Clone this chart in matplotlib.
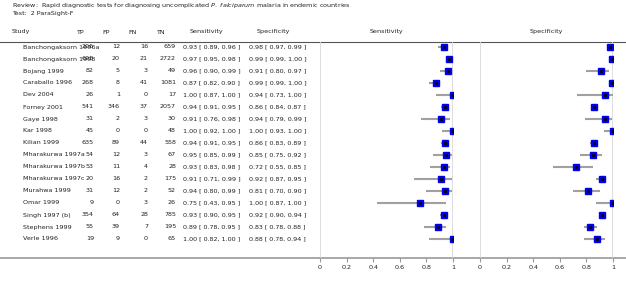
import numpy as np
import matplotlib
matplotlib.use("Agg")
import matplotlib.pyplot as plt

# Study data
studies = ["Banchongaksorn 1996a", "Banchongaksorn 1998", "Bojang 1999", "Caraballo 1996",
           "Dev 2004", "Forney 2001", "Gaye 1998", "Kar 1998", "Kilian 1999",
           "Mharakurwa 1997a", "Mharakurwa 1997b", "Mharakurwa 1997c", "Murahwa 1999",
           "Omar 1999", "Singh 1997 (b)", "Stephens 1999", "Verle 1996"]
tp = [206, 698, 82, 268, 26, 541, 31, 45, 635, 54, 53, 20, 31, 9, 354, 55, 19]
fp = [12, 20, 5, 8, 1, 346, 2, 0, 89, 12, 11, 16, 12, 0, 64, 39, 9]
fn = [16, 21, 3, 41, 0, 37, 3, 0, 44, 3, 4, 2, 2, 3, 28, 7, 0]
tn = [659, 2722, 49, 1081, 17, 2057, 30, 48, 558, 67, 28, 175, 52, 26, 785, 195, 65]

sens = [0.93, 0.97, 0.96, 0.87, 1.00, 0.94, 0.91, 1.00, 0.94, 0.95, 0.93, 0.91, 0.94, 0.75, 0.93, 0.89, 1.00]
sens_lo = [0.89, 0.95, 0.90, 0.82, 0.87, 0.91, 0.76, 0.92, 0.91, 0.85, 0.83, 0.71, 0.80, 0.43, 0.90, 0.78, 0.82]
sens_hi = [0.96, 0.98, 0.99, 0.90, 1.00, 0.95, 0.98, 1.00, 0.95, 0.99, 0.98, 0.99, 0.99, 0.95, 0.95, 0.95, 1.00]
spec = [0.98, 0.99, 0.91, 0.99, 0.94, 0.86, 0.94, 1.00, 0.86, 0.85, 0.72, 0.92, 0.81, 1.00, 0.92, 0.83, 0.88]
spec_lo = [0.97, 0.99, 0.80, 0.99, 0.73, 0.84, 0.79, 0.93, 0.83, 0.75, 0.55, 0.87, 0.70, 0.87, 0.90, 0.78, 0.78]
spec_hi = [0.99, 1.00, 0.97, 1.00, 1.00, 0.87, 0.99, 1.00, 0.89, 0.92, 0.85, 0.95, 0.90, 1.00, 0.94, 0.88, 0.94]

ticks = [0, 0.2, 0.4, 0.6, 0.8, 1]
tick_labels = ["0", "0.2", "0.4", "0.6", "0.8", "1"]

W, H = 626, 284
fs = 4.6
txt = "#222222"

fig = plt.figure(figsize=(W / 100, H / 100), dpi=100)

# overlay axes in pixel coordinates for the table
tab = fig.add_axes([0, 0, 1, 1])
tab.set_xlim(0, W)
tab.set_ylim(H, 0)
tab.axis("off")

tab.text(12, 6, "Review:  Rapid diagnostic tests for diagnosing uncomplicated $\\it{P.\\ falciparum}$ malaria in endemic countries",
         fontsize=fs, color=txt, va="center")
tab.text(12, 14, "Test:  2 ParaSight-F", fontsize=fs, color=txt, va="center")

hy = 32
tab.text(12, hy, "Study", fontsize=fs, color=txt, va="center")
for x, h in [(80, "TP"), (106, "FP"), (133, "FN"), (160, "TN")]:
    tab.text(x, hy, h, fontsize=fs, color=txt, va="center", ha="center")
tab.text(206, hy, "Sensitivity", fontsize=fs, color=txt, va="center", ha="center")
tab.text(273, hy, "Specificity", fontsize=fs, color=txt, va="center", ha="center")
tab.text(386, hy, "Sensitivity", fontsize=fs, color=txt, va="center", ha="center")
tab.text(546, hy, "Specificity", fontsize=fs, color=txt, va="center", ha="center")

tab.plot([0, W], [42, 42], color="#555555", lw=0.8)
tab.plot([0, W], [258, 258], color="#999999", lw=1.2)

y0, dy = 47, 12
for i, s in enumerate(studies):
    y = y0 + dy * i
    tab.text(23, y, s, fontsize=fs, color=txt, va="center")
    tab.text(94, y, str(tp[i]), fontsize=fs, color=txt, va="center", ha="right")
    tab.text(120, y, str(fp[i]), fontsize=fs, color=txt, va="center", ha="right")
    tab.text(148, y, str(fn[i]), fontsize=fs, color=txt, va="center", ha="right")
    tab.text(176, y, str(tn[i]), fontsize=fs, color=txt, va="center", ha="right")
    tab.text(183, y, f"{sens[i]:.2f} [ {sens_lo[i]:.2f}, {sens_hi[i]:.2f} ]", fontsize=fs, color=txt, va="center")
    tab.text(249, y, f"{spec[i]:.2f} [ {spec_lo[i]:.2f}, {spec_hi[i]:.2f} ]", fontsize=fs, color=txt, va="center")

rows = y0 + dy * np.arange(len(studies))


def forest(x0, est, lo, hi):
    ax = fig.add_axes([x0 / W, (H - 258) / H, 133 / W, (258 - 42) / H])
    ax.set_xlim(0, 1)
    ax.set_ylim(258, 42)
    ax.patch.set_alpha(0)
    for sp in ax.spines.values():
        sp.set_visible(False)
    ax.axvline(0, color="#d8d8d8", lw=1.2, zorder=0)
    ax.axvline(1, color="#d8d8d8", lw=1.2, zorder=0)
    ax.hlines(rows, lo, hi, color="#a0a0a0", lw=1.5, zorder=1)
    ax.plot(est, rows, "s", ms=4.5, mfc="#0000ee", mec="#0000ee", zorder=2)
    ax.plot(est, rows, "s", ms=1.5, mfc="#000033", mec="#000033", zorder=3)
    ax.set_xticks(ticks)
    ax.set_xticklabels(tick_labels)
    ax.set_yticks([])
    ax.tick_params(axis="x", length=3, width=0.8, color="#999999", labelsize=fs,
                   labelcolor=txt, pad=2)
    return ax


forest(320, sens, sens_lo, sens_hi)
forest(480, spec, spec_lo, spec_hi)

fig.savefig("out.png", dpi=100)
